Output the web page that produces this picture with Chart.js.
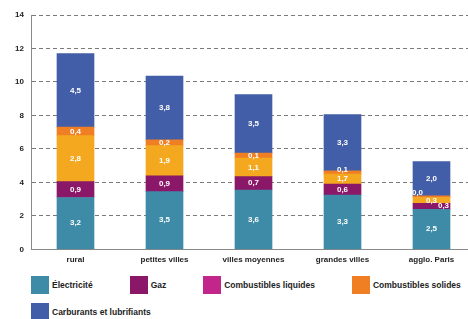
<!DOCTYPE html>
<html>
<head>
<meta charset="utf-8">
<script src="https://cdn.jsdelivr.net/npm/chart.js@4/dist/chart.umd.min.js"></script>
<style>
  html, body { margin: 0; padding: 0; background: #fff; width: 468px; height: 319px; overflow: hidden; }
  #wrap { position: relative; width: 480px; height: 274px; }
  #legend { width: 468px; box-sizing: border-box; padding-left: 31px; margin-top: 2px;
            display: flex; flex-wrap: wrap; column-gap: 37px; row-gap: 9px;
            font: bold 8.5px "Liberation Sans", Arial, sans-serif; color: #222; }
  .item { display: flex; align-items: center; white-space: nowrap; height: 18px; }
  .box { width: 18px; height: 18px; margin-right: 3px; }
</style>
</head>
<body>
<div id="wrap"><canvas id="c" width="480" height="274"></canvas></div>
<div id="legend"></div>
<script>
// ---- data (bar heights) ----
const categories = ['rural', 'petites villes', 'villes moyennes', 'grandes villes', 'agglo. Paris'];
const seriesNames = ['Électricité', 'Gaz', 'Combustibles liquides', 'Combustibles solides', 'Carburants et lubrifiants'];
const electricite  = [3.1, 3.45, 3.55, 3.25, 2.4];
const gaz          = [0.95, 0.95, 0.8, 0.65, 0.35];
const combLiquides = [2.75, 1.8, 1.1, 0.6, 0.35];
const combSolides  = [0.5, 0.35, 0.3, 0.2, 0.1];
const carburants   = [4.4, 3.8, 3.5, 3.35, 2.05];
// printed value labels
const lblElectricite  = ['3,2', '3,5', '3,6', '3,3', '2,5'];
const lblGaz          = ['0,9', '0,9', '0,7', '0,6', '0,3'];
const lblCombLiquides = ['2,8', '1,9', '1,1', '1,7', '0,3'];
const lblCombSolides  = ['0,4', '0,2', '0,1', '0,1', '0,0'];
const lblCarburants   = ['4,5', '3,8', '3,5', '3,3', '2,0'];
// axis
const yMin = 0, yMax = 14, yStep = 2;

// ---- styles ----
const barColors    = ['#3d8ba7', '#8a1767', '#f3a820', '#ef7f22', '#435ea8'];
const legendColors = ['#3d8ba7', '#8a1767', '#c3268a', '#ef7f22', '#435ea8'];
const FONT = '"Liberation Sans", Arial, sans-serif';

const seriesData = [electricite, gaz, combLiquides, combSolides, carburants];
const seriesLabels = [lblElectricite, lblGaz, lblCombLiquides, lblCombSolides, lblCarburants];

// small manual nudges for crowded labels: key "dataset-index" -> [dx, dy]
const labelNudge = { '1-4': [12, 0], '3-4': [-14, -4], '3-3': [0, -3] };

const valueLabels = {
  id: 'valueLabels',
  afterDatasetsDraw(chart) {
    const ctx = chart.ctx;
    ctx.save();
    ctx.font = 'bold 8px ' + FONT;
    ctx.fillStyle = '#ffffff';
    ctx.textAlign = 'center';
    ctx.textBaseline = 'middle';
    chart.data.datasets.forEach((ds, di) => {
      const meta = chart.getDatasetMeta(di);
      meta.data.forEach((bar, i) => {
        const n = labelNudge[di + '-' + i] || [0, 0];
        const y = (bar.y + bar.base) / 2;
        ctx.fillText(seriesLabels[di][i], bar.x + n[0], y + n[1]);
      });
    });
    ctx.restore();
  }
};

new Chart(document.getElementById('c'), {
  type: 'bar',
  data: {
    labels: categories,
    datasets: seriesNames.map((name, k) => ({
      label: name,
      data: seriesData[k],
      backgroundColor: barColors[k],
      borderWidth: 0,
      barThickness: 37
    }))
  },
  options: {
    responsive: false,
    animation: false,
    devicePixelRatio: 1,
    layout: { padding: { top: 15, right: 4, bottom: 3, left: 0 } },
    plugins: { legend: { display: false }, tooltip: { enabled: false } },
    scales: {
      x: {
        stacked: true,
        offset: true,
        grid: { display: false, drawTicks: false },
        border: { display: true, color: '#8a8a8a', width: 1 },
        ticks: { color: '#222', font: { family: FONT, size: 8, weight: 'bold' }, padding: 6, maxRotation: 0, autoSkip: false }
      },
      y: {
        stacked: true,
        min: yMin, max: yMax,
        afterFit(scale) { scale.width = 31; },
        grid: {
          drawTicks: false,
          color: (c) => (c.tick && c.tick.value === 0) ? 'rgba(0,0,0,0)' : '#7a7a7a',
          lineWidth: 1
        },
        border: { display: true, color: '#8a8a8a', width: 1, dash: [4, 3] },
        ticks: { stepSize: yStep, color: '#222', font: { family: FONT, size: 8, weight: 'bold' }, padding: 7 }
      }
    }
  },
  plugins: [valueLabels]
});

// HTML legend
const leg = document.getElementById('legend');
seriesNames.forEach((name, k) => {
  const it = document.createElement('div');
  it.className = 'item';
  const b = document.createElement('span');
  b.className = 'box';
  b.style.background = legendColors[k];
  const t = document.createElement('span');
  t.textContent = name;
  it.appendChild(b); it.appendChild(t);
  leg.appendChild(it);
});
</script>
</body>
</html>
